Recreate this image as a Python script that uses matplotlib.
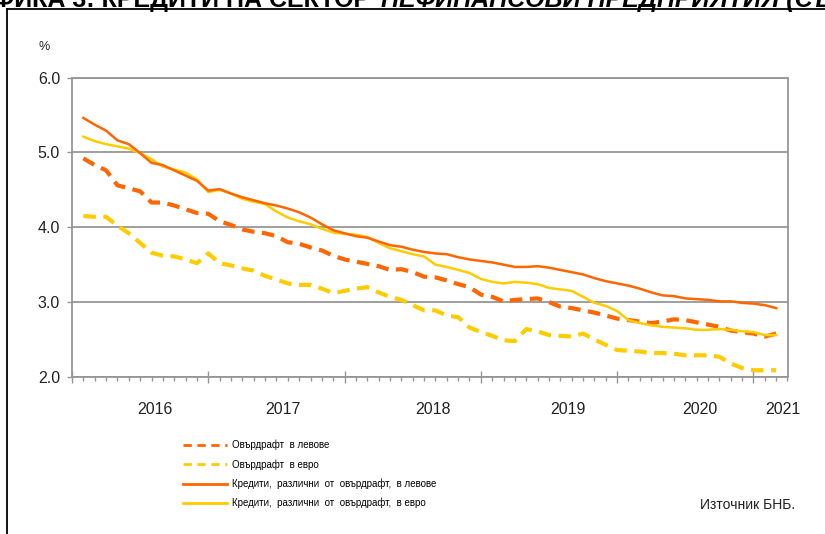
import numpy as np
import matplotlib
matplotlib.use("Agg")
import matplotlib.pyplot as plt
from matplotlib.lines import Line2D

plt.rcParams['font.family'] = ['Liberation Sans', 'DejaVu Sans']

# monthly data, Jan 2016 .. Feb 2021 (positions 1..62 on the category axis)
kredit_lev = [5.46, 5.37, 5.29, 5.16, 5.11, 4.99, 4.86, 4.83, 4.76, 4.69, 4.62, 4.49,
              4.51, 4.45, 4.40, 4.36, 4.32, 4.29, 4.25, 4.20, 4.13, 4.04, 3.96, 3.92,
              3.88, 3.86, 3.81, 3.76, 3.74, 3.70, 3.67, 3.65, 3.64, 3.60, 3.57, 3.55,
              3.53, 3.50, 3.47, 3.47, 3.48, 3.46, 3.43, 3.40, 3.37, 3.32, 3.28, 3.25,
              3.22, 3.18, 3.13, 3.09, 3.08, 3.05, 3.04, 3.03, 3.01, 3.01, 2.99, 2.98,
              2.96, 2.92]
kredit_evro = [5.21, 5.15, 5.11, 5.08, 5.05, 4.99, 4.91, 4.81, 4.77, 4.73, 4.64, 4.47,
               4.50, 4.45, 4.38, 4.34, 4.31, 4.21, 4.13, 4.08, 4.04, 3.98, 3.93, 3.91,
               3.90, 3.87, 3.79, 3.72, 3.68, 3.64, 3.61, 3.50, 3.47, 3.43, 3.39, 3.31,
               3.27, 3.25, 3.27, 3.26, 3.24, 3.19, 3.17, 3.15, 3.07, 2.99, 2.95, 2.88,
               2.76, 2.72, 2.69, 2.67, 2.66, 2.65, 2.63, 2.63, 2.64, 2.63, 2.61, 2.60,
               2.56, 2.56]
overdraft_lev = [4.92, 4.83, 4.76, 4.56, 4.52, 4.48, 4.33, 4.33, 4.29, 4.24, 4.19, 4.18,
                 4.08, 4.03, 3.97, 3.94, 3.92, 3.88, 3.80, 3.78, 3.73, 3.69, 3.62, 3.57,
                 3.54, 3.51, 3.48, 3.43, 3.44, 3.40, 3.34, 3.33, 3.29, 3.24, 3.20, 3.10,
                 3.07, 3.01, 3.03, 3.04, 3.05, 3.00, 2.94, 2.92, 2.89, 2.86, 2.82, 2.78,
                 2.76, 2.74, 2.72, 2.74, 2.77, 2.76, 2.73, 2.70, 2.67, 2.62, 2.60, 2.58,
                 2.54, 2.58]
overdraft_evro = [4.15, 4.14, 4.14, 4.02, 3.92, 3.79, 3.66, 3.62, 3.61, 3.57, 3.52, 3.65,
                  3.52, 3.49, 3.45, 3.42, 3.35, 3.30, 3.25, 3.23, 3.23, 3.18, 3.12, 3.15,
                  3.18, 3.20, 3.13, 3.07, 3.03, 2.96, 2.89, 2.89, 2.82, 2.80, 2.66, 2.60,
                  2.55, 2.49, 2.48, 2.64, 2.61, 2.56, 2.55, 2.54, 2.58, 2.50, 2.43, 2.36,
                  2.35, 2.34, 2.32, 2.32, 2.31, 2.29, 2.29, 2.29, 2.27, 2.18, 2.12, 2.09,
                  2.09, 2.09]

years = ['2016', '2017', '2018', '2019', '2020', '2021']
year_label_pos = [7.3, 18.6, 31.8, 43.7, 55.3, 62.6]

labels = ['Овърдрафт  в левове',
          'Овърдрафт  в евро',
          'Кредити,  различни  от  овърдрафт,  в левове',
          'Кредити,  различни  от  овърдрафт,  в евро']

ORANGE = '#FF6600'
YELLOW = '#FFCC00'
GRAY = '#969696'

x = np.arange(1, len(kredit_lev) + 1)

fig = plt.figure(figsize=(8.25, 5.34), dpi=100)
ax = fig.add_axes([72 / 825, 1 - 377 / 534, 715.5 / 825, 299.5 / 534])

dash = (0, (3, 1.8))
ax.plot(x, overdraft_lev, color=ORANGE, lw=3, ls=dash, zorder=3)
ax.plot(x, overdraft_evro, color=YELLOW, lw=3, ls=dash, zorder=3)
ax.plot(x, kredit_evro, color=YELLOW, lw=1.8, zorder=4)
ax.plot(x, kredit_lev, color=ORANGE, lw=1.8, zorder=4)

ax.set_xlim(0, 63)
ax.set_ylim(2, 6)
ax.set_yticks([2, 3, 4, 5, 6])
ax.set_yticklabels(['2.0', '3.0', '4.0', '5.0', '6.0'])
ax.yaxis.grid(True, color=GRAY, lw=1.3)
ax.set_axisbelow(True)

ax.set_xticks(np.arange(0, 61, 12))
ax.set_xticks(np.arange(0, 64, 1), minor=True)
ax.set_xticklabels([])
ax.tick_params(axis='x', which='major', direction='inout', length=8, width=1, color=GRAY)
ax.tick_params(axis='x', which='minor', direction='out', length=3.2, width=1, color=GRAY)
ax.tick_params(axis='y', direction='out', length=3.6, width=1, color=GRAY,
               labelsize=11.5, pad=5, labelcolor='#222222')
for s in ax.spines.values():
    s.set_color(GRAY)
    s.set_linewidth(1.3)

for yr, pos in zip(years, year_label_pos):
    ax.text(pos, -0.107, yr, transform=ax.get_xaxis_transform(), ha='center', va='center',
            fontsize=11.5, color='#222222')

fig.text(44 / 825, 1 - 47 / 534, '%', ha='center', va='center', fontsize=9, color='#222222')

# legend with thinner proxy lines, as in the original
handles = [Line2D([], [], color=ORANGE, lw=2, ls=(0, (3, 2))),
           Line2D([], [], color=YELLOW, lw=2, ls=(0, (3, 2))),
           Line2D([], [], color=ORANGE, lw=2),
           Line2D([], [], color=YELLOW, lw=2)]
fig.legend(handles, labels, loc='upper left', bbox_to_anchor=(183 / 825, 1 - 440 / 534),
           frameon=False, fontsize=7, handlelength=4.5, handletextpad=0.5,
           labelspacing=0.9, borderpad=0, borderaxespad=0)

fig.text(795 / 825, 1 - 505 / 534, 'Източник БНБ.', ha='right', va='center',
         fontsize=10, color='#222222')

# clipped title and outer frame of the original page
fig.text(370 / 825, 1 - 7 / 534, 'ГРАФИКА 3: КРЕДИТИ НА СЕКТОР', ha='right', va='baseline',
         fontsize=18, fontweight='bold')
fig.text(381 / 825, 1 - 7 / 534, 'НЕФИНАНСОВИ ПРЕДПРИЯТИЯ (СЪОТНОШЕНИЕ)', ha='left',
         va='baseline', fontsize=18, fontweight='bold', fontstyle='italic')
fig.add_artist(Line2D([7 / 825, 7 / 825], [0, 1 - 9 / 534], color='black', lw=1.3,
                      transform=fig.transFigure))
fig.add_artist(Line2D([7 / 825, 1], [1 - 9 / 534, 1 - 9 / 534], color='black', lw=1.3,
                      transform=fig.transFigure))

fig.savefig('out.png', dpi=100)
